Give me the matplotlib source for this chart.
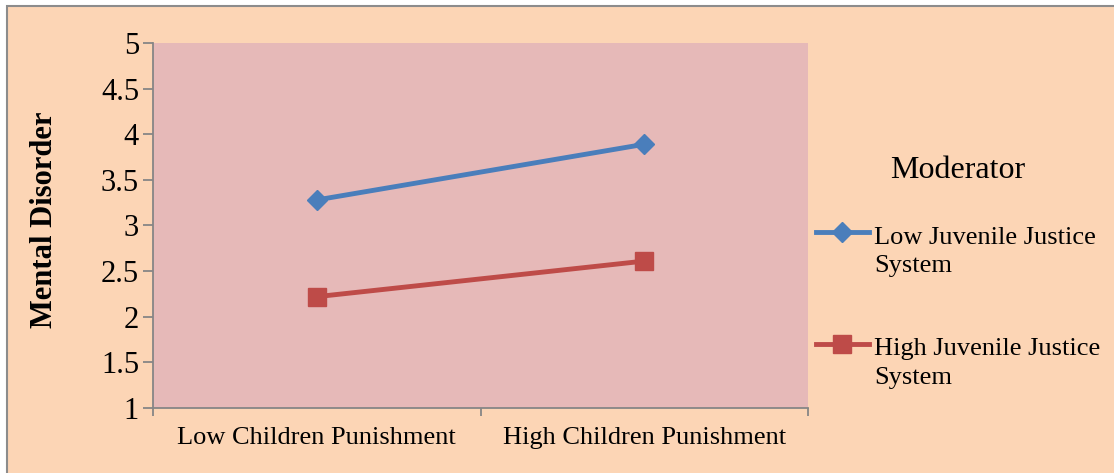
import numpy as np
from matplotlib import pyplot as plt
from matplotlib.patches import Rectangle
from matplotlib.legend_handler import HandlerLine2D

categories = ["Low Children Punishment", "High Children Punishment"]
low_jjs = [3.28, 3.89]
high_jjs = [2.22, 2.61]
series_labels = ["Low Juvenile Justice\nSystem", "High Juvenile Justice\nSystem"]
y_ticks = [1, 1.5, 2, 2.5, 3, 3.5, 4, 4.5, 5]
y_tick_labels = ["1", "1.5", "2", "2.5", "3", "3.5", "4", "4.5", "5"]

W, H = 1114, 473


class FirstLineHandler(HandlerLine2D):
    # put the legend handle next to the first line of a two-line label
    def create_artists(self, legend, orig_handle, xdescent, ydescent,
                       width, height, fontsize, trans):
        return super().create_artists(legend, orig_handle, xdescent,
                                      ydescent - 1.45 * fontsize, width,
                                      height, fontsize, trans)


def main():
    plt.rcParams['font.family'] = ['Liberation Serif', 'DejaVu Serif']
    fig = plt.figure(figsize=(W / 100, H / 100), dpi=100, facecolor='white')
    fig.patches.append(Rectangle((7 / W, -0.1), 1.2, 1.1 - 6 / H,
                                 transform=fig.transFigure, facecolor='#FCD5B5',
                                 edgecolor='#8C8C8C', linewidth=1.5, zorder=-10))

    ax = fig.add_axes([153 / W, 1 - 408 / H, (808 - 153) / W, (408 - 43) / H])
    ax.set_facecolor('#E6B9B8')

    x = np.arange(len(categories))
    ax.plot(x, low_jjs, color='#4A7EBB', lw=3.5, marker='D', ms=10,
            label=series_labels[0])
    ax.plot(x, high_jjs, color='#BE4B48', lw=3.5, marker='s', ms=13,
            label=series_labels[1])

    ax.set_xlim(-0.5, len(categories) - 0.5)
    ax.set_ylim(1, 5)
    ax.set_yticks(y_ticks)
    ax.set_yticklabels(y_tick_labels, fontsize=22)
    ax.set_xticks(np.arange(len(categories) + 1) - 0.5)
    ax.set_xticklabels([])
    ax.set_xticks(x, minor=True)
    ax.set_xticklabels(categories, minor=True, fontsize=19)
    ax.tick_params(axis='x', which='minor', length=0, pad=14)
    ax.tick_params(axis='x', which='major', length=6, width=1.3, color='#868686')
    ax.tick_params(axis='y', length=7, width=1.3, color='#868686', pad=3)
    for s in ['top', 'right']:
        ax.spines[s].set_visible(False)
    for s in ['left', 'bottom']:
        ax.spines[s].set_color('#868686')
        ax.spines[s].set_linewidth(1.3)

    fig.text(45 / W, 1 - 220 / H, "Mental Disorder", rotation=90, fontsize=22,
             fontweight='bold', ha='center', va='center')

    leg = fig.legend(loc='upper left', bbox_to_anchor=(816 / W, 1 - 156 / H),
                     bbox_transform=fig.transFigure, frameon=False,
                     title="Moderator", title_fontsize=23, fontsize=19,
                     borderpad=0, borderaxespad=0, handlelength=2.0,
                     handletextpad=0.2, labelspacing=2.3,
                     handler_map={plt.Line2D: FirstLineHandler()})
    leg._legend_box.sep = 30
    for t in leg.get_texts():
        t.set_linespacing(1.4)

    fig.savefig('out.png', dpi=100, facecolor=fig.get_facecolor())


if __name__ == '__main__':
    main()
